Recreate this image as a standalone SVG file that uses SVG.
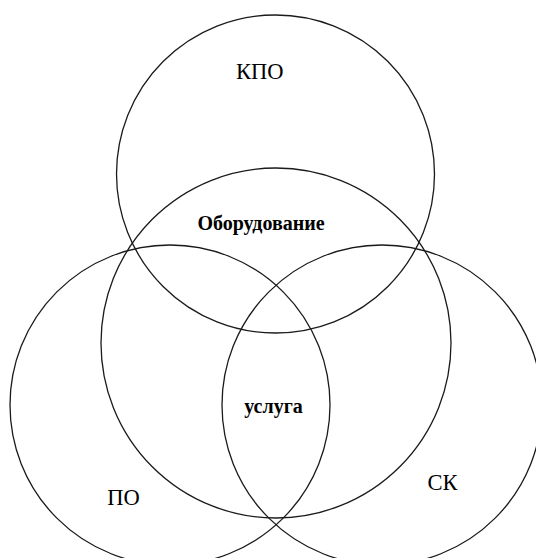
<svg xmlns="http://www.w3.org/2000/svg" width="536" height="558" viewBox="0 0 536 558">
<style>
.c{fill:none;stroke:#1a1a1a;stroke-width:1.3}
.l{font-family:"Liberation Serif","Times New Roman",serif;font-size:22.5px;fill:#000}
.b{font-family:"Liberation Serif","Times New Roman",serif;font-size:20px;font-weight:bold;fill:#000}
</style>
<rect width="536" height="558" fill="#fff"/>
<g id="kpo"><circle class="c" cx="275.5" cy="174" r="159"/><text class="l" x="259.7" y="79" text-anchor="middle">КПО</text></g>
<g id="oborudovanie"><circle class="c" cx="276" cy="343" r="175"/><text class="b" x="261" y="230" text-anchor="middle">Оборудование</text></g>
<g id="po"><circle class="c" cx="170" cy="405" r="160"/><text class="l" x="123.5" y="505" text-anchor="middle">ПО</text></g>
<g id="sk"><circle class="c" cx="382" cy="405" r="160"/><text class="l" x="442.5" y="490" text-anchor="middle">СК</text></g>
<g id="usluga"><text class="b" x="273.5" y="413" text-anchor="middle">услуга</text></g>
<g id="connectors"/>
</svg>
